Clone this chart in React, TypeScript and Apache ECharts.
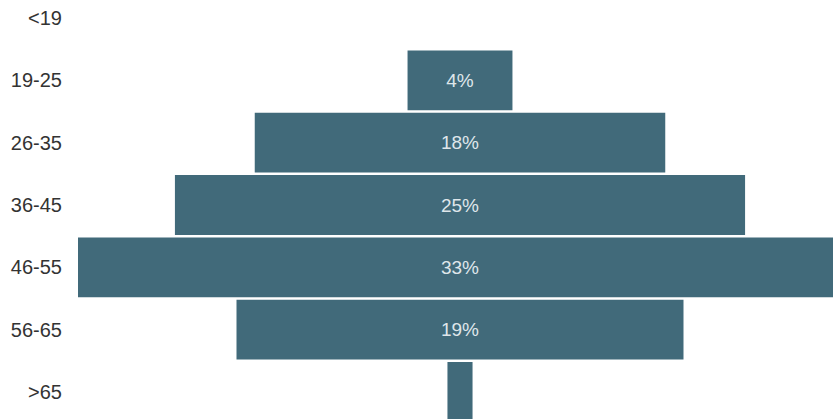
import React, { useEffect, useRef } from "react";
import * as echarts from "echarts";

const categories = ["<19", "19-25", "26-35", "36-45", "46-55", "56-65", ">65"];
const values = [0, 4.6, 18, 25, 33.5, 19.6, 1.1];
const labels = ["", "4%", "18%", "25%", "33%", "19%", ""];
const axisMax = 33.5;

export default function App() {
  const ref = useRef<HTMLDivElement>(null);
  useEffect(() => {
    if (!ref.current) return;
    const chart = echarts.init(ref.current, null, { renderer: "svg" });
    const offsets = values.map((v) => (axisMax - v) / 2);
    chart.setOption({
      animation: false,
      grid: { left: 78, right: 10, top: 0, bottom: 14, containLabel: false },
      xAxis: {
        type: "value",
        min: 0,
        max: axisMax,
        show: false,
      },
      yAxis: {
        type: "category",
        inverse: true,
        data: categories,
        axisLine: { show: false },
        axisTick: { show: false },
        splitLine: { show: false },
        axisLabel: {
          margin: 16,
          color: "#333333",
          fontSize: 20,
          fontFamily: "Liberation Sans, Arial, sans-serif",
        },
      },
      series: [
        {
          type: "bar",
          stack: "s",
          data: offsets,
          itemStyle: { color: "transparent" },
          barCategoryGap: "4%",
          silent: true,
        },
        {
          type: "bar",
          stack: "s",
          data: values,
          barCategoryGap: "4%",
          itemStyle: { color: "#416a7a" },
          label: {
            show: true,
            position: "inside",
            color: "#dfe6ea",
            fontSize: 19,
            fontFamily: "Liberation Sans, Arial, sans-serif",
            formatter: (p: any) => labels[p.dataIndex],
          },
        },
      ],
    });
    return () => chart.dispose();
  }, []);
  return (
    <div style={{ position: "fixed", left: 0, top: 0, width: 833, height: 419, overflow: "hidden", background: "#fff" }}>
      <div
        ref={ref}
        style={{ position: "absolute", left: 0, top: -13, width: 852, height: 450 }}
      />
    </div>
  );
}
